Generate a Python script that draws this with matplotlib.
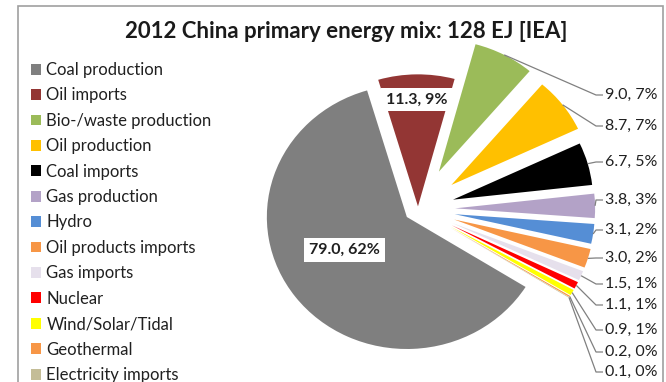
import numpy as np
import matplotlib
matplotlib.use("Agg")
import matplotlib.pyplot as plt
from matplotlib.patches import Rectangle

# ---- data -------------------------------------------------------------
categories = ["Coal production", "Oil imports", "Bio-/waste production",
              "Oil production", "Coal imports", "Gas production", "Hydro",
              "Oil products imports", "Gas imports", "Nuclear",
              "Wind/Solar/Tidal", "Geothermal", "Electricity imports"]
values_ej = [79.0, 11.3, 9.0, 8.7, 6.7, 3.8, 3.1, 3.0, 1.5, 1.1, 0.9, 0.2, 0.1]
title = "2012 China primary energy mix: 128 EJ [IEA]"

# ---- styling ----------------------------------------------------------
colors = ["#7f7f7f", "#933634", "#9bbb59", "#ffc000", "#000000", "#b3a2c7",
          "#558ed5", "#f79646", "#e6e0ec", "#ff0000", "#ffff00", "#f79646",
          "#c4bd97"]
explode = [0.10, 0.02, 0.32, 0.30, 0.26, 0.265, 0.265, 0.27, 0.27, 0.27,
           0.27, 0.27, 0.27]
FONT = ["Lato", "DejaVu Sans"]
TXT = "#202020"

W, H = 666, 382
CX, CY = 418, 209          # pie centre in pixels (from top-left)
RX, RY = 140, 132          # horizontal / vertical radius in pixels

# vertical rows (pixels from top) of the outside labels, slices 3..13
outside_rows = [95, 126, 162, 200, 230, 258, 284, 305, 330, 352, 372]
label_left_px = 605
elbow_px = 596


def px(x, y):
    """pixel position -> data coordinates of the pie axes"""
    return (x - CX) / RX, (CY - y) / RY


plt.rcParams["font.family"] = FONT
fig = plt.figure(figsize=(W / 100, H / 100), dpi=100)
ax = fig.add_axes([0, 0, 1, 1])

wedges, _ = ax.pie(values_ej, colors=colors, startangle=-32,
                   counterclock=False, explode=explode, radius=1,
                   center=(0, 0), wedgeprops=dict(linewidth=0))
ax.set_aspect("auto")
ax.set_xlim(-CX / RX, (W - CX) / RX)
ax.set_ylim(-(H - CY) / RY, CY / RY)
ax.axis("off")

total = sum(values_ej)
texts = [f"{v:.1f}, {round(100 * v / total):.0f}%" for v in values_ej]


def mid_angle(w):
    return np.deg2rad(0.5 * (w.theta1 + w.theta2))


# coal label inside its slice
w = wedges[0]
a = mid_angle(w) - np.deg2rad(8)
ax.text(w.center[0] + 0.51 * np.cos(a), w.center[1] + 0.51 * np.sin(a),
        texts[0], ha="center", va="center", fontsize=11.5, fontweight="bold",
        color=TXT, bbox=dict(boxstyle="square,pad=0.3", fc="white", ec="none"))

# oil imports label near the rim of its slice
w = wedges[1]
a = mid_angle(w)
ax.text(w.center[0] + 0.81 * np.cos(a), w.center[1] + 0.81 * np.sin(a),
        texts[1], ha="center", va="center", fontsize=11.5, fontweight="bold",
        color=TXT, bbox=dict(boxstyle="square,pad=0.3", fc="white", ec="none"))

# remaining labels on the right with leader lines
x_text = px(label_left_px, 0)[0]
x_elbow = px(elbow_px, 0)[0]
x_end = px(label_left_px - 2, 0)[0]
for w, txt, row in zip(wedges[2:], texts[2:], outside_rows):
    a = mid_angle(w)
    sx = w.center[0] + w.r * np.cos(a)
    sy = w.center[1] + w.r * np.sin(a)
    ty = px(0, row)[1]
    if sx < x_elbow:
        xs, ys = [sx, x_elbow, x_end], [sy, ty, ty]
    else:
        xs, ys = [sx, x_end], [sy, ty]
    ax.plot(xs, ys, color="#808080", lw=0.9, solid_capstyle="butt")
    ax.text(x_text, ty, txt, ha="left", va="center", fontsize=11.5, color=TXT)

# legend
fig.legend(wedges, categories, loc="upper left",
           bbox_to_anchor=(31 / W, 1 - 62 / H), frameon=False, fontsize=12,
           handlelength=0.62, handleheight=0.62, handletextpad=0.3,
           labelspacing=0.565, borderpad=0, borderaxespad=0, labelcolor=TXT)

# title and chart frame
fig.text(346 / W, 1 - 32 / H, title, ha="center", va="center", fontsize=16,
         fontweight="bold", color="#1a1a1a")
fig.add_artist(Rectangle((18 / W, -0.1), (663 - 18) / W, (H - 6) / H + 0.1,
                         transform=fig.transFigure, fill=False,
                         ec="#a0a0a0", lw=1.2))

fig.savefig("out.png", dpi=100, facecolor="white")
